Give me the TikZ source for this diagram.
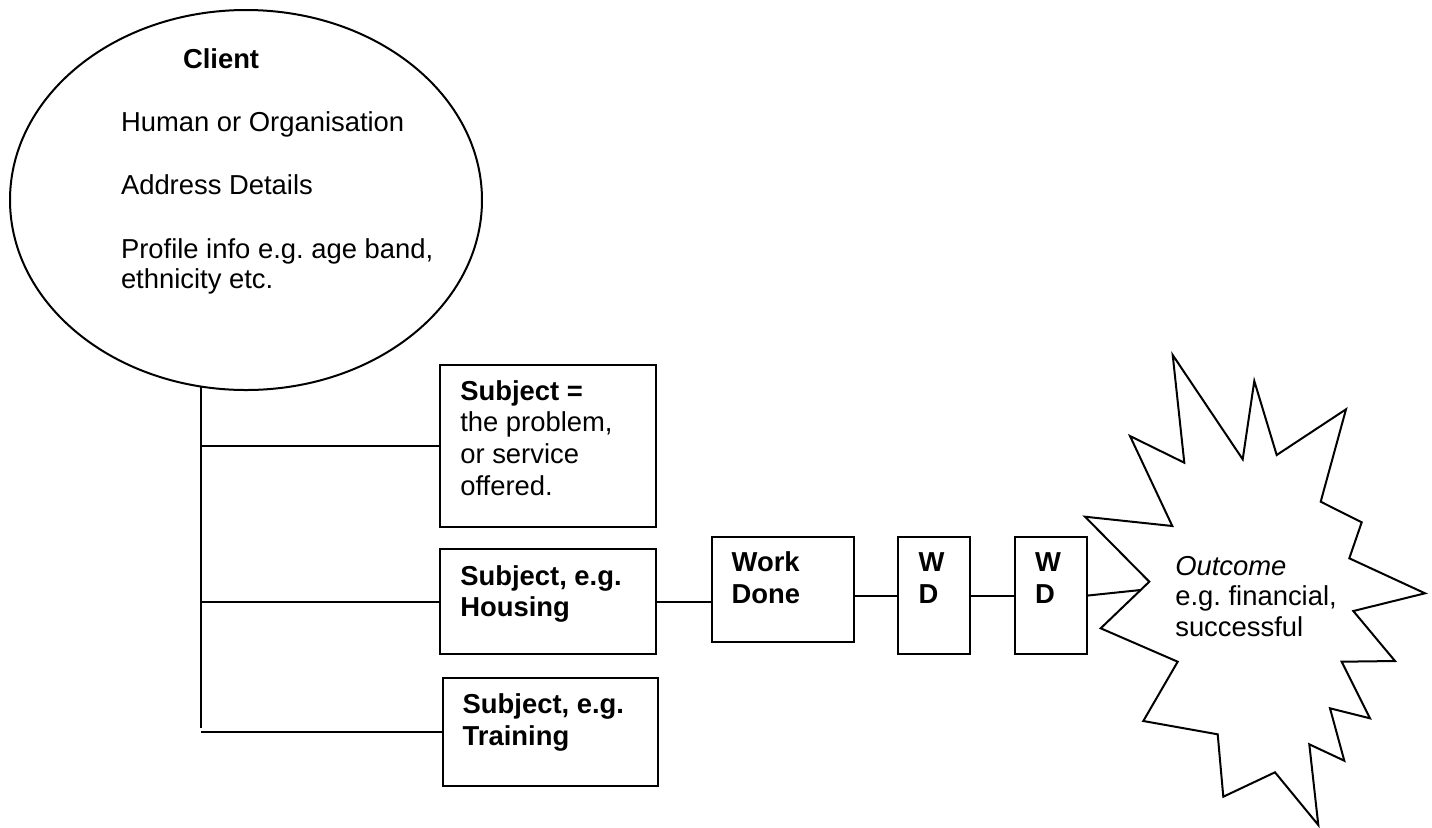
\documentclass[tikz,border=0pt]{standalone}
\usepackage{fontspec}
\setmainfont{Liberation Sans}
\frenchspacing
\usetikzlibrary{shapes.geometric}

\tikzset{
  box/.style={draw, rectangle, inner sep=0pt, anchor=north west},
  txt/.style={anchor=base west, inner sep=0pt, align=left,
    font=\fontsize{13.7}{15.8}\selectfont}
}

\begin{document}
\begin{tikzpicture}[x=0.5pt, y=-0.5pt, line width=1pt]
        \useasboundingbox (0,0) rectangle (1432,827);
        % client
        \node[draw, ellipse, inner sep=0pt, minimum width=236pt, minimum height=190pt] (client) at (246,200) {};
        \node[txt, font=\fontsize{13.7}{15.8}\selectfont\bfseries] (clientname) at (182,68) {Client};
        \node[txt, font=\fontsize{13.7}{15}\selectfont] (clientinfo) at (120,288.3)
            {Human or Organisation\\[16.3pt]Address Details\\[17pt]Profile info e.g. age band,\\ethnicity etc.};

        % subjects
        \node[box, minimum width=107.9pt, minimum height=80.7pt] (subjA) at (439.3,364.3) {};
        \node[box, minimum width=108pt, minimum height=52.5pt] (subjB) at (439,548.3) {};
        \node[box, minimum width=107.8pt, minimum height=54.2pt] (subjC) at (441.7,676.7) {};
        \node[txt] at (459.3,495) {\textbf{Subject =}\\the problem,\\or service\\offered.};
        \node[txt, font=\fontsize{13.7}{15.8}\selectfont\bfseries] at (459.3,616.7) {Subject, e.g.\\Housing};
        \node[txt, font=\fontsize{13.7}{15.8}\selectfont\bfseries] at (461.7,745) {Subject, e.g.\\Training};

        % work done
        \node[box, minimum width=71pt, minimum height=52.5pt] (work) at (710.7,536) {};
        \node[box, minimum width=35.9pt, minimum height=58.5pt] (wdA) at (897.3,536) {};
        \node[box, minimum width=35.9pt, minimum height=58.5pt] (wdB) at (1014.3,536) {};
        \node[txt, font=\fontsize{13.7}{15.8}\selectfont\bfseries] at (730.7,603.3) {Work\\Done};
        \node[txt, font=\fontsize{13.7}{15.8}\selectfont\bfseries] at (917.7,603.3) {W\\D};
        \node[txt, font=\fontsize{13.7}{15.8}\selectfont\bfseries] at (1034,603.3) {W\\D};

        % outcome
        \draw[line join=miter] (1172.7,355) -- (1242.7,459.3) -- (1254.3,381) -- (1276.7,455)
            -- (1346,409.3) -- (1320.7,501.7) -- (1361.7,522.3) -- (1349.3,558.3)
            -- (1425,593.3) -- (1353.3,611) -- (1395,661) -- (1341.7,661.7)
            -- (1370,718.3) -- (1330,708.3) -- (1344.3,760.7) -- (1309.3,744.3)
            -- (1318.3,825) -- (1275,772.3) -- (1223.3,796.7) -- (1217.7,734.3)
            -- (1143.3,721) -- (1177.7,661.7) -- (1100.7,628.3) -- (1149.3,581.7)
            -- (1085,516.7) -- (1172.3,526) -- (1130,436) -- (1184.3,462.7) -- cycle;
        \coordinate (dent) at (1140.6,590);
        \node[txt, font=\fontsize{13.7}{15.25}\selectfont] (outcome) at (1174.3,636)
            {\textit{Outcome}\\e.g. financial,\\successful};

        % connectors
        \coordinate (trunk) at (201,387);
        \draw (trunk) -- (201,728);
        \draw (trunk |- subjA.west) -- (subjA.west);
        \draw (trunk |- subjB.west) -- (subjB.west);
        \draw (trunk |- subjC.west) -- (subjC.west);
        \draw (subjB.east) -- (subjB.east -| work.west);
        \draw (work.east |- wdA.west) -- (wdA.west);
        \draw (wdA.east) -- (wdB.west);
        \draw (wdB.east) -- (dent);
    \end{tikzpicture}
\end{document}
